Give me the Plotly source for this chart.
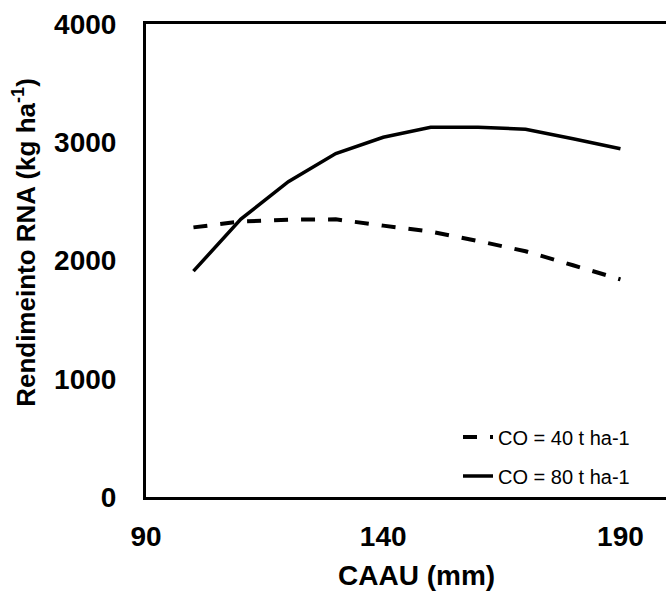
import plotly.graph_objects as go

caau = [100, 110, 120, 130, 140, 150, 160, 170, 180, 190]
co40 = [2280, 2330, 2345, 2348, 2295, 2245, 2165, 2078, 1960, 1840]
co80 = [1910, 2350, 2667, 2905, 3042, 3126, 3126, 3110, 3030, 2945]
names = ["CO = 40 t ha-1", "CO = 80 t ha-1"]
x_ticks = [90, 140, 190]
y_ticks = [0, 1000, 2000, 3000, 4000]
x_title = "CAAU (mm)"
y_title = "Rendimeinto RNA (kg ha<sup>-1</sup>)"

FONT = "Liberation Sans, Arial, sans-serif"

fig = go.Figure()
fig.add_trace(go.Scatter(x=caau, y=co40, mode="lines", name=names[0],
                         legendgroup="a",
                         line=dict(color="black", width=4, dash="14px,13px")))
fig.add_trace(go.Scatter(x=caau, y=co80, mode="lines", name=names[1],
                         legendgroup="b",
                         line=dict(color="black", width=3.5)))

fig.update_layout(
    width=666, height=594,
    margin=dict(l=146, r=0, t=24, b=97, autoexpand=False),
    paper_bgcolor="white", plot_bgcolor="white",
    font=dict(family=FONT, color="black"),
    showlegend=True,
    legend=dict(x=0.60, y=0.168, xanchor="left", yanchor="top",
                bgcolor="rgba(0,0,0,0)", font=dict(size=20, family=FONT),
                tracegroupgap=10, traceorder="grouped"),
    xaxis=dict(range=[90, 199.6], tickvals=x_ticks, ticktext=[str(v) for v in x_ticks],
               showgrid=False, zeroline=False, showline=True, linecolor="black",
               linewidth=3, mirror=True, ticks="", ticklabelstandoff=12,
               tickfont=dict(size=28, family=FONT, weight="bold")),
    yaxis=dict(range=[0, 4000], tickvals=y_ticks, ticktext=[str(v) for v in y_ticks],
               showgrid=False, zeroline=False, showline=True, linecolor="black",
               linewidth=3, mirror=False, ticks="", ticklabelstandoff=21,
               tickfont=dict(size=28, family=FONT, weight="bold")),
    annotations=[
        dict(text=x_title, xref="paper", yref="paper", x=0.521, y=-0.165,
             xanchor="center", yanchor="middle", showarrow=False,
             font=dict(size=28, family=FONT, weight="bold")),
        dict(text=y_title, xref="paper", yref="paper", x=-0.235, y=0.539,
             xanchor="center", yanchor="middle", textangle=-90, showarrow=False,
             font=dict(size=26, family=FONT, weight="bold")),
    ],
)

fig.write_html("out.html",
               config={"displayModeBar": False},
               post_script="document.body.style.margin='0';document.body.style.padding='0';")
